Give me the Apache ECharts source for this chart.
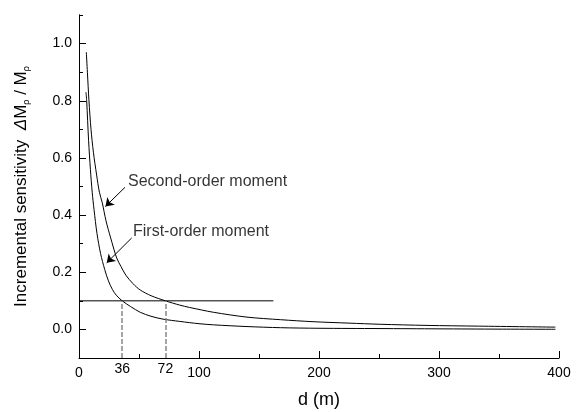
<!DOCTYPE html>
<html>
<head>
<meta charset="utf-8">
<script src="https://cdn.jsdelivr.net/npm/echarts@6/dist/echarts.min.js"></script>
<style>
  html, body { margin: 0; padding: 0; background: #fff; }
  #chart { width: 583px; height: 412px; }
</style>
</head>
<body>
<div id="chart"></div>
<script>
// distance d (m) and incremental sensitivity
const firstOrder = [
  [5.8, 0.83], [6.4, 0.80], [8, 0.66], [9.5, 0.56], [11, 0.48], [12.5, 0.42],
  [15, 0.335], [18, 0.265], [21.4, 0.21], [24.5, 0.17], [27.8, 0.14], [31, 0.12],
  [36, 0.10], [43, 0.08], [51, 0.06], [60, 0.046], [70, 0.036], [84, 0.028],
  [100, 0.02], [112, 0.016], [140, 0.01], [168, 0.006], [200, 0.004],
  [250, 0.003], [300, 0.002], [350, 0.001], [397, 0.0005]
];
const secondOrder = [
  [6.1, 0.97], [7, 0.90], [8.3, 0.80], [10, 0.70], [12, 0.62], [14.7, 0.54],
  [17, 0.48], [19.4, 0.443], [22.5, 0.38], [26.4, 0.32], [31.4, 0.25],
  [35, 0.22], [39, 0.19], [45, 0.16], [51, 0.138], [60, 0.118], [72, 0.10],
  [84, 0.085], [92, 0.077], [112, 0.06], [140, 0.043], [168, 0.034],
  [195, 0.027], [225, 0.022], [251, 0.018], [290, 0.014], [333, 0.0115],
  [397, 0.008]
];
const thresholdLine = [[0, 0.1], [162, 0.1]];
const crossings = [36, 72];
const yLabels = [0, 0.2, 0.4, 0.6, 0.8, 1.0];
const yMinor = [0.1, 0.3, 0.5, 0.7, 0.9, 1.1];
// annotation text and arrows (data coords)
const notes = [
  { text: "Second-order moment", at: [40.8, 0.517], from: [38.3, 0.497], to: [22, 0.43] },
  { text: "First-order moment", at: [45, 0.343], from: [43.9, 0.32], to: [23.1, 0.233] }
];

const font = "Liberation Sans, Arial, sans-serif";
const myChart = echarts.init(document.getElementById("chart"));

const option = {
  animation: false,
  textStyle: { fontFamily: font },
  grid: { left: 79, top: 15, right: 24, bottom: 54, containLabel: false, outerBoundsMode: "none" },
  xAxis: {
    type: "value",
    min: 0,
    max: 400,
    interval: 100,
    name: "d (m)",
    nameLocation: "middle",
    nameGap: 33,
    nameMoveOverlap: false,
    nameTextStyle: { fontSize: 18, color: "#000", fontFamily: font },
    axisLine: { show: true, onZero: false, lineStyle: { color: "#000", width: 1 } },
    axisTick: { show: true, inside: true, length: 7, lineStyle: { color: "#000" } },
    minorTick: { show: true, splitNumber: 2, length: 4, lineStyle: { color: "#000" } },
    axisLabel: { fontSize: 14, color: "#000", margin: 8, fontFamily: font },
    splitLine: { show: false }
  },
  yAxis: [
    {
      type: "value",
      min: -0.1,
      max: 1.1,
      interval: 0.1,
      name: "{t|Incremental sensitivity  }{d|Δ}{t|M}{s|ρ}{t| / M}{s|ρ}",
      nameLocation: "middle",
      nameRotate: 90,
      nameGap: 48,
      nameMoveOverlap: false,
      nameTextStyle: {
        color: "#000",
        rich: {
          t: { fontSize: 17, fontFamily: font, color: "#000" },
          d: { fontSize: 17, fontFamily: font, fontStyle: "italic", color: "#000" },
          s: { fontSize: 9, fontFamily: font, color: "#000", verticalAlign: "bottom", padding: [10, 0, 0, 0] }
        }
      },
      axisLine: { show: true, onZero: false, lineStyle: { color: "#000", width: 1 } },
      axisTick: { show: true, inside: true, length: 7, customValues: yLabels, lineStyle: { color: "#000" } },
      axisLabel: {
        customValues: yLabels,
        fontSize: 14,
        color: "#000",
        margin: 7,
        fontFamily: font,
        formatter: function (v) { return v.toFixed(1); }
      },
      splitLine: { show: false }
    },
    {
      type: "value",
      position: "left",
      offset: 0,
      min: -0.1,
      max: 1.1,
      interval: 0.1,
      axisLine: { show: true, onZero: false, lineStyle: { color: "#000", width: 1 } },
      axisTick: { show: true, inside: true, length: 4, customValues: yMinor, lineStyle: { color: "#000" } },
      axisLabel: { show: false },
      splitLine: { show: false }
    }
  ],
  series: [
    {
      name: "Second-order moment",
      type: "line",
      data: secondOrder,
      smooth: 0.3,
      showSymbol: false,
      lineStyle: { color: "#000", width: 1 }
    },
    {
      name: "First-order moment",
      type: "line",
      data: firstOrder,
      smooth: 0.3,
      showSymbol: false,
      lineStyle: { color: "#000", width: 1 }
    },
    {
      name: "threshold",
      type: "line",
      data: thresholdLine,
      showSymbol: false,
      lineStyle: { color: "#000", width: 1 },
      markLine: {
        silent: true,
        symbol: ["none", "none"],
        lineStyle: { color: "#888", type: [5, 2], width: 1.5 },
        label: { show: true, position: "start", distance: 4, fontSize: 14, color: "#000", fontFamily: font, formatter: "{c}" },
        data: crossings.map(function (d) {
          return [{ coord: [d, -0.1], value: d }, { coord: [d, 0.1] }];
        })
      }
    },
    {
      name: "notes",
      type: "scatter",
      symbolSize: 0,
      data: notes.map(function (n) { return { value: n.at, name: n.text }; }),
      label: {
        show: true,
        position: "right",
        distance: 0,
        formatter: "{b}",
        fontSize: 16,
        color: "#000",
        fontFamily: font
      },
      markLine: {
        silent: true,
        symbol: ["none", "arrow"],
        symbolSize: 8,
        lineStyle: { color: "#000", type: "solid", width: 1 },
        itemStyle: { color: "#000" },
        label: { show: false },
        data: notes.map(function (n) {
          return [{ coord: n.from }, { coord: n.to }];
        })
      }
    }
  ]
};

myChart.setOption(option);
</script>
</body>
</html>
